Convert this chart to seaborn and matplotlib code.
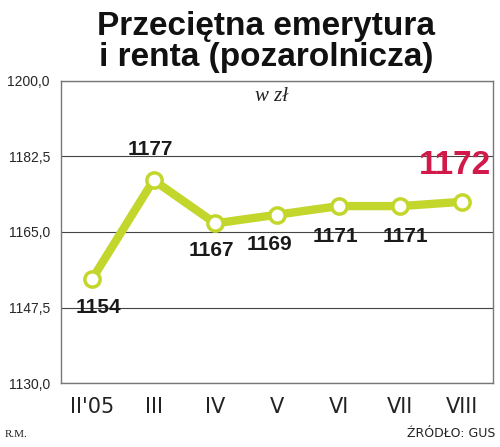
import matplotlib
matplotlib.use('Agg')
import matplotlib.pyplot as plt
import seaborn as sns
import pandas as pd

# data
months = ["II'05", "III", "IV", "V", "VI", "VII", "VIII"]
values = [1154, 1177, 1167, 1169, 1171, 1171, 1172]
yticks = [1130.0, 1147.5, 1165.0, 1182.5, 1200.0]

df = pd.DataFrame({'pos': range(len(months)), 'val': values})

sns.set_style('white')
plt.rcParams['font.family'] = ['Liberation Sans', 'DejaVu Sans']

green = '#c3d62c'
red = '#d21a4a'

fig = plt.figure(figsize=(5.0, 4.47), dpi=100)
ax = fig.add_axes([0.122, 0.143, 0.864, 0.676])

sns.lineplot(data=df, x='pos', y='val', ax=ax, color=green, linewidth=6,
             marker='o', markersize=11, markerfacecolor='white',
             markeredgecolor=green, markeredgewidth=2.5, zorder=3)

ax.set_xlim(-0.5, 6.5)
ax.set_ylim(1130, 1200)
ax.set_yticks(yticks)
ax.set_yticklabels([f'{t:.1f}'.replace('.', ',') for t in yticks], fontsize=10)
ax.set_xticks(range(len(months)))
ax.set_xticklabels(months, fontsize=15, family='DejaVu Sans', color='#222222')
ax.tick_params(axis='y', length=5, width=0.8, color='#555555', pad=3)
ax.tick_params(axis='x', length=0, pad=10)
ax.set_xlabel('')
ax.set_ylabel('')
ax.grid(axis='y', color='#444444', linewidth=0.8)
ax.grid(axis='x', visible=False)
for s in ax.spines.values():
    s.set_color('#777777')
    s.set_linewidth(1.0)

# value labels (offset from each point)
offsets = [(0.11, -6.5), (-0.05, 7.2), (-0.06, -6.3), (-0.13, -6.8), (-0.06, -7.0), (0.08, -7.0)]
for i, (dx, dy) in enumerate(offsets):
    ax.text(i + dx, values[i] + dy, str(values[i]), ha='center', va='center',
            fontsize=15, fontweight='bold', color='#1a1a1a', zorder=4)
ax.text(6 - 0.11, values[6] + 8.3, str(values[6]), ha='center', va='center',
        fontsize=24, fontweight='bold', color=red, zorder=4)

ax.text(0.488, 0.947, 'w zł', transform=ax.transAxes, ha='center', va='center',
        fontsize=15, style='italic', family='Liberation Serif', color='#222222')

fig.text(0.532, 0.905, 'Przeciętna emerytura\ni renta (pozarolnicza)', ha='center', va='center',
         fontsize=24, fontweight='bold', color='#111111', linespacing=1.0)
fig.text(0.01, 0.022, 'R.M.', fontsize=8, family='Liberation Serif', color='#222222')
fig.text(0.99, 0.022, 'ŹRÓDŁO: GUS', fontsize=9, ha='right', family='DejaVu Sans',
         color='#222222')

fig.savefig('out.png', dpi=100)
